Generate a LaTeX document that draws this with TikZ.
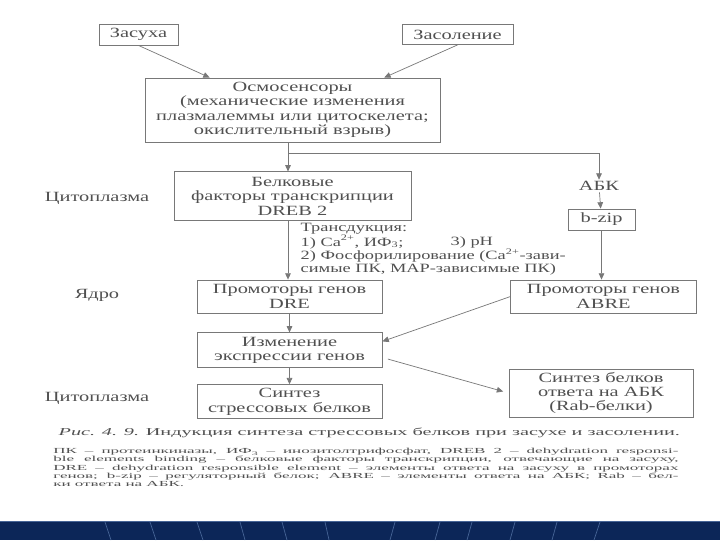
\documentclass[tikz,border=0pt]{standalone}
\usepackage{fontspec}
\setmainfont{Liberation Serif}[FakeStretch=1.45]
\newfontfamily\capfont{Liberation Serif}[FakeStretch=1.92]
\newfontfamily\legfont{Liberation Serif}[FakeStretch=2.2]
\usepackage{xcolor}
\usepackage{tikz}
\usetikzlibrary{arrows.meta, positioning, calc}
\definecolor{scantext}{RGB}{80,80,80}
\definecolor{scanline}{RGB}{120,120,120}
\definecolor{sband}{RGB}{12,38,88}
\definecolor{sbandln}{RGB}{70,100,150}

\begin{document}
\begin{tikzpicture}[
  x=0.025cm,y=-0.025cm,
  font=\fontsize{10}{10.2}\selectfont,
  box/.style={draw=scanline,fill=white,line width=0.6pt,
              align=center,text=scantext,inner sep=1pt},
  lbl/.style={text=scantext,inner sep=1pt},
  arr/.style={-{Triangle[length=4.5pt,width=4pt]},line width=0.5pt,color=scanline}
]
  \useasboundingbox (0,0) rectangle (720,540);
  \fill[white] (0,0) rectangle (720,540);

  \node[box,minimum width=1.975cm,minimum height=0.525cm] (zasukha) at (138.5,34.5) {Засуха};
  \node[box,minimum width=2.775cm,minimum height=0.5cm] (zasolenie) at (457.5,34.5) {Засоление};
  \node[box,minimum width=7.375cm,minimum height=1.6cm] (osmo) at (292.5,110)
    {Осмосенсоры\\(механические изменения\\плазмалеммы или цитоскелета;\\окислительный взрыв)};
  \node[box,minimum width=5.925cm,minimum height=1.225cm,below=0.725cm of osmo] (dreb)
    {Белковые\\факторы транскрипции\\DREB 2};
  \node[lbl] (abk) at (599,186) {АБК};
  \node[box,minimum width=1.675cm,minimum height=0.525cm] (bzip) at (601.5,219.5) {b-zip};

  \node[box,minimum width=4.625cm,minimum height=0.825cm] (dre) at (289.5,296.5) {Промоторы генов\\DRE};
  \node[box,minimum width=4.625cm,minimum height=0.825cm,right=3.2cm of dre] (abre) {Промоторы генов\\ABRE};
  \node[box,minimum width=4.625cm,minimum height=0.875cm,below=0.475cm of dre] (izm) {Изменение\\экспрессии генов};
  \node[box,minimum width=4.625cm,minimum height=0.85cm,below=0.4cm of izm] (sintez) {Синтез\\стрессовых белков};
  \node[box,minimum width=4.6cm,minimum height=1.2cm] (rab) at (601,393) {Синтез белков\\ответа на АБК\\(Rab-белки)};

  \node[lbl] (cyto1) at (97,198) {Цитоплазма};
  \node[lbl] (yadro) at (97,295) {Ядро};
  \node[lbl] (cyto2) at (97,398) {Цитоплазма};

  \begin{scope}[font=\fontsize{9}{9.5}\selectfont]
    \node[lbl,anchor=west] (trans1) at (299,229) {Трансдукция:};
    \node[lbl,anchor=west] (trans2) at (299,242) {1) Ca\textsuperscript{2+}, ИФ\textsubscript{3};};
    \node[lbl,anchor=west] (ph) at (449,242) {3) pH};
    \node[lbl,anchor=west,align=left,font=\fontsize{9}{7.8}\selectfont] (trans3) at (299,262)
      {2) Фосфорилирование (Ca\textsuperscript{2+}-зави-\\симые ПК, MAP-зависимые ПК)};
  \end{scope}

  \coordinate (split) at (288,153);
  \draw[arr] (zasukha.south) -- ($(osmo.north west)!0.22!(osmo.north east)$);
  \draw[arr] (zasolenie.south) -- ($(osmo.north west)!0.81!(osmo.north east)$);
  \draw[scanline,line width=0.5pt] (osmo.south -| split) -- (split);
  \draw[arr] (split) -- (split |- dreb.north);
  \draw[arr] (split) -| (abk.north);
  \draw[arr] (abk) -- (bzip);
  \draw[arr] (dreb.south -| split) -- (split |- dre.north);
  \draw[arr] (bzip.south) -- (bzip.south |- abre.north);
  \draw[arr] (dre) -- (izm);
  \draw[arr] (izm) -- (sintez);
  \draw[arr] (abre.west) -- ($(izm.north east)!0.25!(izm.south east)$);
  \draw[arr,shorten <=4pt,shorten >=4pt] ($(izm.north east)!0.7!(izm.south east)$) -- (rab.west);

  \node[lbl,anchor=west,font=\capfont\fontsize{7.5}{8}\selectfont] (caption) at (57,433)
    {\textit{Рис. 4. 9.} Индукция синтеза стрессовых белков при засухе и засолении.};
  \node[lbl,anchor=north west,inner sep=0pt,text width=15.625cm,align=justify,
        font=\legfont\fontsize{5.5}{5.85}\selectfont] (legend) at (53,448)
    {ПК – протеинкиназы, ИФ\textsubscript{3} – инозитолтрифосфат, DREB 2 – dehydration responsi-\linebreak
     ble elements binding – белковые факторы транскрипции, отвечающие на засуху,\linebreak
     DRE – dehydration responsible element – элементы ответа на засуху в промоторах\linebreak
     генов; b-zip – регуляторный белок; ABRE – элементы ответа на АБК; Rab – бел-\linebreak
     ки ответа на АБК.};

  \fill[sband] (0,521) rectangle (720,540);
  \draw[sbandln,line width=0.6pt] (0,521) -- (720,521);
  \foreach \xa/\xb in {105/111,150/156,197/203,240/245,282/287,325/329,
                       395/390,440/435,472/467,515/510,557/552,600/594}
    \draw[sbandln,line width=0.5pt] (\xa,522) -- (\xb,540);
\end{tikzpicture}
\end{document}
